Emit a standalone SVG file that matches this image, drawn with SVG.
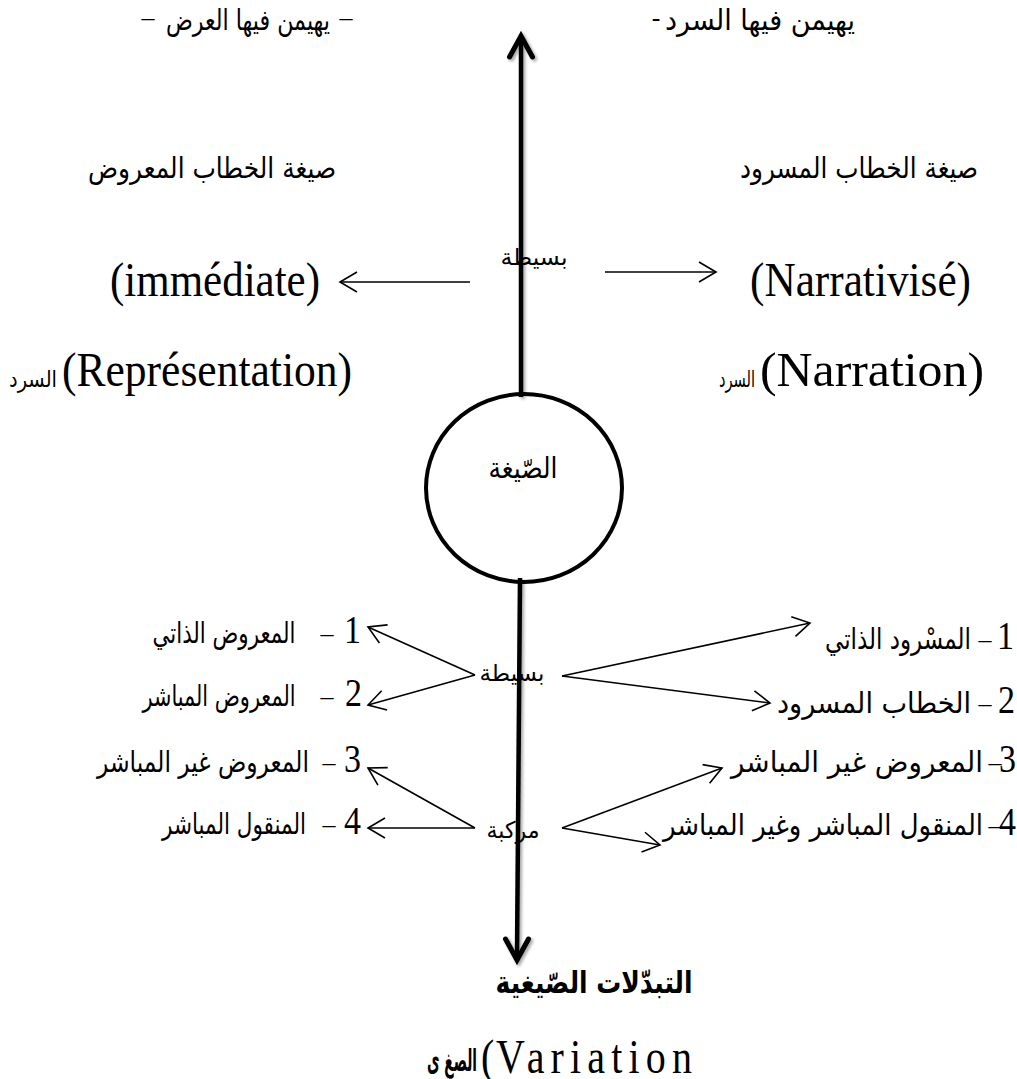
<svg xmlns="http://www.w3.org/2000/svg" width="1017" height="1079" viewBox="0 0 1017 1079">
  <style>
    .ar { font-family: "DejaVu Sans", "Noto Sans", sans-serif; fill: #000; text-anchor: middle; font-size: 25px; }
    .ar-s { font-size: 20px; }
    .ar-b { font-weight: bold; font-size: 28px; }
    .lat { font-family: "Liberation Serif", "Times New Roman", serif; fill: #000; font-size: 40px; }
    .dig { font-family: "Liberation Serif", "Times New Roman", serif; fill: #000; font-size: 34px; text-anchor: end; }
    .dash { font-family: "Liberation Serif", "Times New Roman", serif; fill: #000; font-size: 26px; text-anchor: middle; }
    .thin { fill: none; stroke: #000; stroke-width: 1.6; }
    .axis { fill: none; stroke: #000; stroke-width: 4.5; }
    .head { fill: none; stroke: #000; stroke-width: 5; stroke-linejoin: miter; stroke-linecap: round; }
  </style>
  <defs>
    <marker id="open" markerUnits="userSpaceOnUse" markerWidth="26" markerHeight="26" viewBox="-22 -13 26 26" refX="0" refY="0" orient="auto">
      <path d="M-17,-10 L0,0 L-17,10" fill="none" stroke="#000" stroke-width="1.6"/>
    </marker>
    <filter id="soft" x="-30%" y="-5%" width="160%" height="110%">
      <feDropShadow dx="2" dy="2" stdDeviation="1.5" flood-color="#000" flood-opacity="0.35"/>
    </filter>
  </defs>

  <!-- headings above the axis -->
  <g id="top-left">
    <text class="dash" x="148" y="26">–</text>
    <text class="ar" transform="translate(248,30) scale(1,1.15)" textLength="164" lengthAdjust="spacingAndGlyphs">يهيمن فيها العرض</text>
    <text class="dash" x="346" y="26">–</text>
  </g>
  <g id="top-right">
    <text class="dash" x="656" y="26">-</text>
    <text class="ar" transform="translate(760,30) scale(1,1.15)" textLength="190" lengthAdjust="spacingAndGlyphs">يهيمن فيها السرد</text>
  </g>

  <g id="mode-shown">
    <text class="ar" transform="translate(212,178) scale(1,1.15)" textLength="248" lengthAdjust="spacingAndGlyphs">صيغة الخطاب المعروض</text>
  </g>
  <g id="mode-narrated">
    <text class="ar" transform="translate(859,178) scale(1,1.15)" textLength="238" lengthAdjust="spacingAndGlyphs">صيغة الخطاب المسرود</text>
  </g>

  <g id="simple-top">
    <text class="ar ar-s" transform="translate(534,265) scale(1,1.15)" textLength="67" lengthAdjust="spacingAndGlyphs">بسيطة</text>
  </g>
  <g id="immediate">
    <text class="lat" transform="translate(110,296) scale(1,1.2)" textLength="210" lengthAdjust="spacingAndGlyphs">(immédiate)</text>
  </g>
  <g id="narrativise">
    <text class="lat" transform="translate(750,296) scale(1,1.2)" textLength="221" lengthAdjust="spacingAndGlyphs">(Narrativisé)</text>
  </g>

  <g id="representation">
    <text class="ar ar-s" transform="translate(33,387) scale(1,1.15)" textLength="48" lengthAdjust="spacingAndGlyphs">السرد</text>
    <text class="lat" transform="translate(62,386) scale(1,1.2)" textLength="290" lengthAdjust="spacingAndGlyphs">(Représentation)</text>
  </g>
  <g id="narration">
    <text class="ar ar-s" transform="translate(737,387) scale(1,1.15)" textLength="36" lengthAdjust="spacingAndGlyphs">السرد</text>
    <text class="lat" transform="translate(760,386) scale(1,1.2)" textLength="224" lengthAdjust="spacingAndGlyphs">(Narration)</text>
  </g>

  <!-- central node -->
  <g id="mode">
    <ellipse cx="524" cy="488" rx="98" ry="94" fill="#fff" stroke="#000" stroke-width="4"/>
    <text class="ar" transform="translate(523,478) scale(1,1.15)" textLength="69" lengthAdjust="spacingAndGlyphs">الصّيغة</text>
  </g>

  <!-- branch labels -->
  <g id="simple-bottom">
    <text class="ar ar-s" transform="translate(512,681) scale(1,1.15)" textLength="65" lengthAdjust="spacingAndGlyphs">بسيطة</text>
  </g>
  <g id="compound">
    <text class="ar ar-s" transform="translate(513,838) scale(1,1.15)" textLength="53" lengthAdjust="spacingAndGlyphs">مركبة</text>
  </g>

  <!-- left list -->
  <g id="left-1">
    <text class="ar" transform="translate(224,643) scale(1,1.15)" textLength="143" lengthAdjust="spacingAndGlyphs">المعروض الذاتي</text>
    <text class="dash" x="327" y="642">–</text>
    <text class="dig" transform="translate(361,643) scale(1,1.2)">1</text>
  </g>
  <g id="left-2">
    <text class="ar" transform="translate(219,706) scale(1,1.15)" textLength="153" lengthAdjust="spacingAndGlyphs">المعروض المباشر</text>
    <text class="dash" x="327" y="705">–</text>
    <text class="dig" transform="translate(362,706) scale(1,1.2)">2</text>
  </g>
  <g id="left-3">
    <text class="ar" transform="translate(203,772) scale(1,1.15)" textLength="212" lengthAdjust="spacingAndGlyphs">المعروض غير المباشر</text>
    <text class="dash" x="329" y="771">–</text>
    <text class="dig" transform="translate(361,772) scale(1,1.2)">3</text>
  </g>
  <g id="left-4">
    <text class="ar" transform="translate(234,834) scale(1,1.15)" textLength="144" lengthAdjust="spacingAndGlyphs">المنقول المباشر</text>
    <text class="dash" x="329" y="833">–</text>
    <text class="dig" transform="translate(361,834) scale(1,1.2)">4</text>
  </g>

  <!-- right list -->
  <g id="right-1">
    <text class="ar" transform="translate(898,649) scale(1,1.15)" textLength="146" lengthAdjust="spacingAndGlyphs">المسْرود الذاتي</text>
    <text class="dash" x="985" y="648">–</text>
    <text class="dig" transform="translate(1014,649) scale(1,1.2)">1</text>
  </g>
  <g id="right-2">
    <text class="ar" transform="translate(874,713) scale(1,1.15)" textLength="194" lengthAdjust="spacingAndGlyphs">الخطاب المسرود</text>
    <text class="dash" x="985" y="712">–</text>
    <text class="dig" transform="translate(1015,713) scale(1,1.2)">2</text>
  </g>
  <g id="right-3">
    <text class="ar" transform="translate(857,772) scale(1,1.15)" textLength="252" lengthAdjust="spacingAndGlyphs">المعروض غير المباشر</text>
    <text class="dash" x="995" y="771">–</text>
    <text class="dig" transform="translate(1016,772) scale(1,1.2)">3</text>
  </g>
  <g id="right-4">
    <text class="ar" transform="translate(823,835) scale(1,1.15)" textLength="320" lengthAdjust="spacingAndGlyphs">المنقول المباشر وغير المباشر</text>
    <text class="dash" x="995" y="834">–</text>
    <text class="dig" transform="translate(1016,835) scale(1,1.2)">4</text>
  </g>

  <!-- result under the axis -->
  <g id="variations">
    <text class="ar ar-b" transform="translate(594,993) scale(1,1.1)" textLength="197" lengthAdjust="spacingAndGlyphs">التبدّلات الصّيغية</text>
  </g>
  <g id="variation">
    <text class="ar ar-b" transform="translate(452,1071) scale(1,1.1)" textLength="50" lengthAdjust="spacingAndGlyphs">الصغ ى</text>
    <text class="lat" transform="translate(481,1073) scale(1,1.2)">(</text>
    <text class="lat" transform="translate(496,1073) scale(1,1.2)" textLength="196" lengthAdjust="spacing">Variation</text>
  </g>

  <!-- connectors -->
  <g id="connectors">
    <g filter="url(#soft)">
      <path class="axis" d="M521,397 L521,40"/>
      <polyline class="head" points="509.5,57 521,36 532.5,57"/>
      <path class="axis" d="M520,578 L517,955"/>
      <polyline class="head" points="505.5,939 517,960 528.5,939"/>
    </g>
    <path class="thin" d="M470,282 L340,282" marker-end="url(#open)"/>
    <path class="thin" d="M605,272 L716,272" marker-end="url(#open)"/>
    <path class="thin" d="M475,675 L368,627" marker-end="url(#open)"/>
    <path class="thin" d="M475,675 L368,705" marker-end="url(#open)"/>
    <path class="thin" d="M475,828 L368,768" marker-end="url(#open)"/>
    <path class="thin" d="M475,828 L368,828" marker-end="url(#open)"/>
    <path class="thin" d="M562,676 L810,623" marker-end="url(#open)"/>
    <path class="thin" d="M562,676 L770,703" marker-end="url(#open)"/>
    <path class="thin" d="M562,828 L722,768" marker-end="url(#open)"/>
    <path class="thin" d="M562,828 L660,845" marker-end="url(#open)"/>
  </g>
</svg>
